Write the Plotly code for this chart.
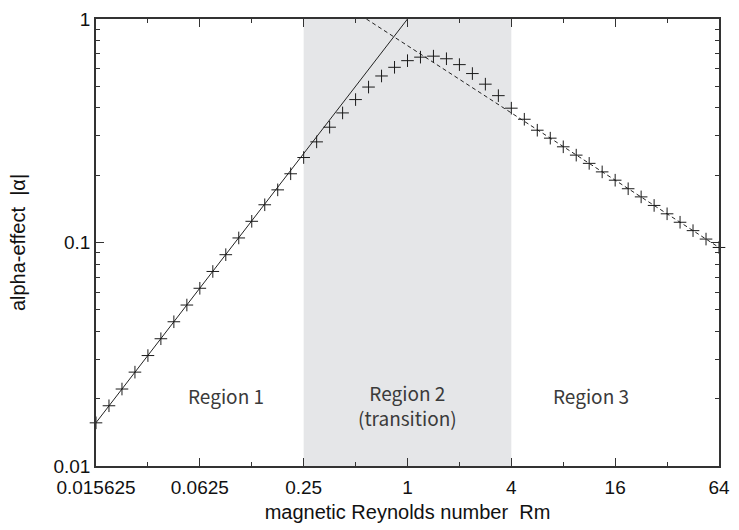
import math
import plotly.graph_objects as go

# Magnetic Reynolds number samples (2^(k/4), k = -24..24)
rm = [
    0.015625, 0.01858, 0.02210, 0.02628, 0.03125, 0.03716, 0.04419, 0.05256,
    0.0625, 0.07433, 0.08839, 0.1051, 0.125, 0.1487, 0.1768, 0.2102,
    0.25, 0.2973, 0.3536, 0.4204, 0.5, 0.5946, 0.7071, 0.8409,
    1.0, 1.189, 1.414, 1.682, 2.0, 2.378, 2.828, 3.364,
    4.0, 4.757, 5.657, 6.727, 8.0, 9.514, 11.31, 13.45,
    16.0, 19.03, 22.63, 26.91, 32.0, 38.05, 45.25, 53.82, 64.0,
]
# Measured |alpha|
alpha = [
    0.0156, 0.0186, 0.0221, 0.0263, 0.0312, 0.0371, 0.0442, 0.0525,
    0.0624, 0.0742, 0.0882, 0.1048, 0.1244, 0.1475, 0.1720, 0.2030,
    0.2400, 0.2820, 0.3280, 0.3800, 0.4360, 0.4960, 0.5560, 0.6080,
    0.6510, 0.6750, 0.6820, 0.6640, 0.6250, 0.5700, 0.5110, 0.4540,
    0.3990, 0.3560, 0.3180, 0.2930, 0.2680, 0.2460, 0.2260, 0.2070,
    0.1900, 0.1740, 0.1600, 0.1465, 0.1344, 0.1232, 0.1130, 0.1036, 0.0950,
]

# Asymptotic laws: alpha ~ Rm (low Rm) and alpha ~ Rm^(-1/2) (high Rm)
low_x = [0.015625, 1.0]
low_y = [0.015625, 1.0]
high_x = [0.5776, 64.0]
high_y = [1.0, 0.095]

# Transition band
band = [0.25, 4.0]

x_ticks = [0.015625, 0.0625, 0.25, 1, 4, 16, 64]
x_ticktext = ["0.015625", "0.0625", "0.25", "1", "4", "16", "64"]
x_minor = [0.03125, 0.125, 0.5, 2, 8, 32]
y_ticks = [0.01, 0.1, 1]
y_ticktext = ["0.01", "0.1", "1"]
y_minor = [m * d for d in (0.01, 0.1) for m in range(2, 10)]

# Region labels: (Rm position, text)
region_x = [0.0625 * 1.42, 1.0, 16.0 * 0.72]
region_text = ["Region 1", "Region 2<br>(transition)", "Region 3"]
region_y = [0.158, 0.137, 0.158]

font_main = "Arial"
font_region = "Noto Sans CJK JP"

fig = go.Figure()

fig.add_shape(type="rect", xref="x", yref="paper",
              x0=band[0], x1=band[1], y0=0, y1=1,
              fillcolor="#e5e6e8", line_width=0, layer="below")

fig.add_trace(go.Scatter(x=low_x, y=low_y, mode="lines",
                         line=dict(color="#222222", width=1),
                         showlegend=False, hoverinfo="skip"))
fig.add_trace(go.Scatter(x=high_x, y=high_y, mode="lines",
                         line=dict(color="#222222", width=1, dash="4px,3px"),
                         showlegend=False, hoverinfo="skip"))
fig.add_trace(go.Scatter(x=rm, y=alpha, mode="markers",
                         marker=dict(symbol="cross-thin", size=9,
                                     line=dict(color="#1a1a1a", width=1)),
                         cliponaxis=False, showlegend=False))

for xv, txt, yv in zip(region_x, region_text, region_y):
    fig.add_annotation(x=math.log10(xv), xref="x", y=yv, yref="paper",
                       text=txt, showarrow=False,
                       font=dict(family=font_region, size=19, color="#3a3a3a"),
                       yanchor="middle", xanchor="center")

axis_common = dict(
    type="log", showgrid=False, zeroline=False,
    showline=True, linecolor="#333333", linewidth=1.5, mirror="ticks",
    ticks="inside", ticklen=8, tickwidth=1, tickcolor="#333333",
    tickfont=dict(family=font_main, size=19, color="#111111"),
)

fig.update_xaxes(
    **axis_common,
    range=[-1.80618, 1.80618],
    tickmode="array", tickvals=x_ticks, ticktext=x_ticktext,
    ticklabelstandoff=3,
    minor=dict(tickmode="array", tickvals=x_minor, ticks="inside",
               ticklen=4, tickcolor="#333333", tickwidth=1),
    title=dict(text="magnetic Reynolds number  Rm",
               font=dict(family=font_main, size=20, color="#111111"),
               standoff=8),
)
fig.update_yaxes(
    **axis_common,
    range=[-2, 0],
    tickmode="array", tickvals=y_ticks, ticktext=y_ticktext,
    minor=dict(tickmode="array", tickvals=y_minor, ticks="inside",
               ticklen=4, tickcolor="#333333", tickwidth=1),
    title=dict(text="alpha-effect  |α|",
               font=dict(family=font_main, size=20, color="#111111"),
               standoff=22),
)

fig.update_layout(
    width=739, height=530,
    margin=dict(l=96, r=9, t=13, b=64),
    paper_bgcolor="white", plot_bgcolor="white",
)

fig.write_html("out.html")
